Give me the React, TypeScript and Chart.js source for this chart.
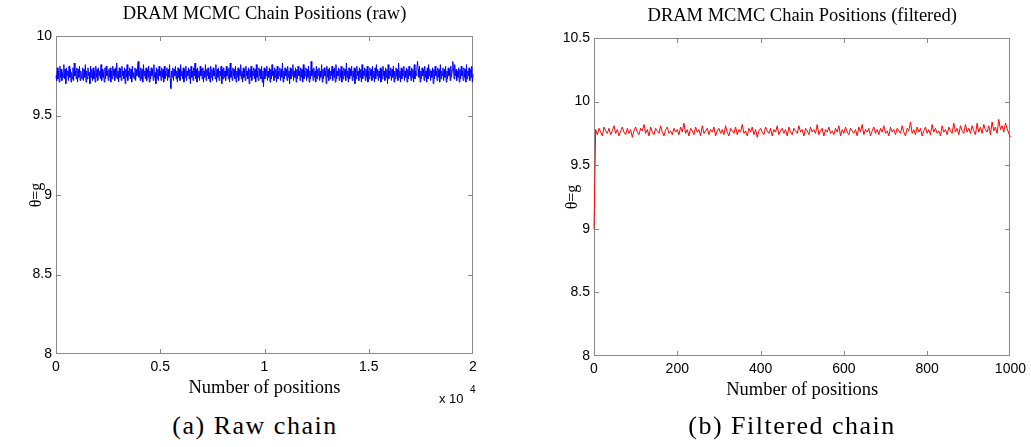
import React, { useEffect, useRef } from "react";
import { Chart, registerables } from "chart.js";

Chart.register(...registerables);

// ---- Data ----
// Raw DRAM chain, thinned (20000 positions in all)
const rawValues: number[] = [
  9.75, 9.72, 9.80, 9.73, 9.78, 9.71, 9.81, 9.74, 9.79, 9.72, 9.77, 9.74, 9.82, 9.73, 9.79, 9.70, 9.80, 9.75, 9.78, 9.72,
  9.81, 9.74, 9.79, 9.71, 9.77, 9.73, 9.80, 9.72, 9.83, 9.75, 9.78, 9.73, 9.80, 9.71, 9.79, 9.74, 9.81, 9.72, 9.78, 9.75,
  9.73, 9.80, 9.72, 9.79, 9.74, 9.82, 9.71, 9.78, 9.73, 9.80, 9.75, 9.77, 9.70, 9.81, 9.74, 9.79, 9.72, 9.80, 9.73, 9.78,
  9.71, 9.81, 9.74, 9.79, 9.72, 9.80, 9.75, 9.78, 9.73, 9.82, 9.72, 9.79, 9.74, 9.77, 9.71, 9.80, 9.73, 9.81, 9.75, 9.78,
  9.72, 9.79, 9.74, 9.80, 9.71, 9.78, 9.73, 9.81, 9.75, 9.79, 9.72, 9.80, 9.74, 9.83, 9.73, 9.78, 9.71, 9.80, 9.74, 9.79,
  9.72, 9.81, 9.75, 9.78, 9.73, 9.80, 9.70, 9.79, 9.74, 9.82, 9.72, 9.78, 9.75, 9.80, 9.73, 9.79, 9.71, 9.81, 9.74, 9.77,
  9.73, 9.80, 9.72, 9.79, 9.75, 9.81, 9.84, 9.74, 9.78, 9.72, 9.80, 9.73, 9.79, 9.71, 9.82, 9.75, 9.78, 9.73, 9.80, 9.72,
  9.79, 9.74, 9.81, 9.71, 9.78, 9.73, 9.80, 9.75, 9.79, 9.72, 9.82, 9.74, 9.77, 9.70, 9.80, 9.73, 9.79, 9.72, 9.81, 9.75,
  9.78, 9.72, 9.80, 9.74, 9.79, 9.71, 9.81, 9.73, 9.78, 9.75, 9.80, 9.72, 9.79, 9.74, 9.82, 9.73, 9.67, 9.78, 9.74, 9.80,
  9.72, 9.79, 9.75, 9.81, 9.73, 9.78, 9.71, 9.80, 9.74, 9.79, 9.72, 9.82, 9.75, 9.78, 9.73, 9.80, 9.71, 9.79, 9.74, 9.81,
  9.72, 9.78, 9.75, 9.80, 9.73, 9.79, 9.70, 9.81, 9.74, 9.78, 9.72, 9.80, 9.75, 9.83, 9.73, 9.79, 9.71, 9.80, 9.74, 9.78,
  9.72, 9.81, 9.75, 9.79, 9.73, 9.80, 9.71, 9.78, 9.74, 9.82, 9.72, 9.79, 9.75, 9.80, 9.73, 9.77, 9.71, 9.81, 9.74, 9.79,
  9.72, 9.80, 9.75, 9.78, 9.73, 9.82, 9.71, 9.79, 9.74, 9.80, 9.72, 9.78, 9.75, 9.81, 9.70, 9.79, 9.73, 9.80, 9.74, 9.78,
  9.72, 9.81, 9.75, 9.79, 9.73, 9.80, 9.71, 9.83, 9.74, 9.78, 9.72, 9.80, 9.75, 9.79, 9.73, 9.81, 9.71, 9.78, 9.74, 9.80,
  9.72, 9.79, 9.75, 9.82, 9.73, 9.78, 9.71, 9.80, 9.74, 9.79, 9.72, 9.81, 9.75, 9.78, 9.73, 9.80, 9.70, 9.79, 9.74, 9.81,
  9.72, 9.78, 9.75, 9.80, 9.73, 9.79, 9.71, 9.82, 9.74, 9.78, 9.72, 9.80, 9.75, 9.79, 9.73, 9.81, 9.71, 9.78, 9.68, 9.80,
  9.73, 9.79, 9.75, 9.81, 9.72, 9.78, 9.74, 9.80, 9.71, 9.79, 9.73, 9.82, 9.75, 9.78, 9.72, 9.80, 9.74, 9.79, 9.71, 9.81,
  9.73, 9.78, 9.75, 9.80, 9.72, 9.79, 9.74, 9.83, 9.71, 9.78, 9.73, 9.80, 9.75, 9.79, 9.72, 9.81, 9.74, 9.78, 9.70, 9.80,
  9.73, 9.79, 9.75, 9.82, 9.72, 9.78, 9.74, 9.80, 9.71, 9.79, 9.73, 9.81, 9.75, 9.78, 9.72, 9.80, 9.74, 9.79, 9.71, 9.82,
  9.73, 9.78, 9.75, 9.80, 9.72, 9.79, 9.74, 9.81, 9.71, 9.78, 9.73, 9.84, 9.75, 9.79, 9.72, 9.80, 9.74, 9.78, 9.71, 9.81,
  9.73, 9.79, 9.75, 9.80, 9.72, 9.78, 9.74, 9.82, 9.71, 9.79, 9.73, 9.80, 9.75, 9.78, 9.70, 9.81, 9.74, 9.79, 9.72, 9.80,
  9.73, 9.78, 9.75, 9.81, 9.72, 9.79, 9.74, 9.80, 9.71, 9.82, 9.73, 9.78, 9.75, 9.80, 9.72, 9.79, 9.74, 9.81, 9.71, 9.78,
  9.73, 9.80, 9.75, 9.79, 9.72, 9.83, 9.74, 9.78, 9.71, 9.80, 9.73, 9.79, 9.75, 9.81, 9.72, 9.78, 9.74, 9.80, 9.70, 9.79,
  9.73, 9.81, 9.75, 9.78, 9.72, 9.80, 9.74, 9.79, 9.71, 9.82, 9.73, 9.78, 9.75, 9.80, 9.72, 9.79, 9.74, 9.81, 9.71, 9.78,
  9.73, 9.80, 9.75, 9.79, 9.72, 9.81, 9.74, 9.78, 9.71, 9.80, 9.73, 9.82, 9.75, 9.79, 9.72, 9.78, 9.74, 9.80, 9.71, 9.79,
  9.73, 9.81, 9.75, 9.78, 9.72, 9.80, 9.74, 9.79, 9.70, 9.82, 9.73, 9.78, 9.75, 9.80, 9.72, 9.79, 9.74, 9.81, 9.71, 9.78,
  9.73, 9.80, 9.75, 9.79, 9.72, 9.83, 9.74, 9.78, 9.71, 9.80, 9.73, 9.79, 9.75, 9.81, 9.72, 9.78, 9.74, 9.80, 9.71, 9.79,
  9.73, 9.81, 9.75, 9.78, 9.72, 9.80, 9.74, 9.79, 9.71, 9.82, 9.73, 9.78, 9.75, 9.80, 9.84, 9.79, 9.74, 9.81, 9.71, 9.78,
  9.73, 9.80, 9.75, 9.79, 9.72, 9.81, 9.74, 9.78, 9.71, 9.80, 9.73, 9.82, 9.75, 9.79, 9.72, 9.78, 9.74, 9.80, 9.70, 9.79,
  9.73, 9.81, 9.75, 9.78, 9.72, 9.80, 9.74, 9.79, 9.71, 9.82, 9.73, 9.78, 9.75, 9.80, 9.72, 9.79, 9.74, 9.81, 9.71, 9.78,
  9.73, 9.80, 9.75, 9.79, 9.72, 9.81, 9.74, 9.78, 9.84, 9.80, 9.73, 9.82, 9.75, 9.79, 9.72, 9.78, 9.74, 9.80, 9.71, 9.79,
  9.73, 9.81, 9.75, 9.78, 9.72, 9.80, 9.74, 9.79, 9.71, 9.82, 9.73, 9.78, 9.75, 9.80, 9.72, 9.79, 9.74, 9.81, 9.71, 9.76,
];
const rawLastPosition = 20000;

// Filtered chain: initial value, then every 4th of 1000 positions
const filteredValues: number[] = [
  9.00,
  9.78, 9.74, 9.79, 9.76, 9.73, 9.80, 9.77, 9.75, 9.79, 9.74, 9.77, 9.81, 9.75, 9.78, 9.73, 9.77, 9.80, 9.76, 9.74, 9.79, 9.75, 9.78, 9.72, 9.77, 9.80,
  9.76, 9.74, 9.79, 9.77, 9.82, 9.75, 9.78, 9.73, 9.80, 9.76, 9.74, 9.79, 9.77, 9.75, 9.81, 9.76, 9.73, 9.78, 9.80, 9.75, 9.77, 9.74, 9.79, 9.76, 9.78,
  9.74, 9.80, 9.76, 9.83, 9.75, 9.78, 9.73, 9.79, 9.77, 9.74, 9.80, 9.76, 9.78, 9.73, 9.81, 9.75, 9.77, 9.79, 9.74, 9.78, 9.76, 9.80, 9.73, 9.77, 9.79,
  9.75, 9.78, 9.74, 9.81, 9.76, 9.73, 9.79, 9.77, 9.75, 9.80, 9.74, 9.78, 9.76, 9.82, 9.75, 9.77, 9.73, 9.79, 9.76, 9.80, 9.74, 9.78, 9.72, 9.77, 9.79,
  9.76, 9.74, 9.80, 9.77, 9.75, 9.79, 9.73, 9.78, 9.76, 9.81, 9.74, 9.77, 9.79, 9.75, 9.78, 9.73, 9.80, 9.76, 9.74, 9.79, 9.77, 9.75, 9.81, 9.76, 9.78,
  9.73, 9.79, 9.77, 9.74, 9.80, 9.76, 9.78, 9.75, 9.82, 9.74, 9.77, 9.79, 9.73, 9.78, 9.76, 9.80, 9.75, 9.77, 9.74, 9.79, 9.76, 9.81, 9.73, 9.78, 9.75,
  9.80, 9.76, 9.74, 9.79, 9.77, 9.75, 9.78, 9.73, 9.80, 9.76, 9.82, 9.74, 9.78, 9.76, 9.79, 9.73, 9.77, 9.80, 9.75, 9.78, 9.74, 9.79, 9.76, 9.81, 9.75,
  9.77, 9.73, 9.80, 9.76, 9.78, 9.74, 9.79, 9.77, 9.75, 9.81, 9.76, 9.73, 9.79, 9.77, 9.84, 9.75, 9.78, 9.74, 9.80, 9.76, 9.79, 9.73, 9.77, 9.80, 9.75,
  9.78, 9.74, 9.82, 9.76, 9.79, 9.75, 9.77, 9.73, 9.81, 9.76, 9.78, 9.74, 9.80, 9.77, 9.75, 9.83, 9.76, 9.79, 9.74, 9.81, 9.77, 9.75, 9.82, 9.76, 9.79,
  9.75, 9.81, 9.77, 9.74, 9.83, 9.76, 9.80, 9.75, 9.82, 9.78, 9.76, 9.81, 9.74, 9.84, 9.77, 9.80, 9.75, 9.86, 9.78, 9.81, 9.76, 9.83, 9.79, 9.75, 9.72,
];
const filteredLastPosition = 1000;

// Axes / tick labels
const rawXTicks = [0, 5000, 10000, 15000, 20000];
const rawXTickLabels = ["0", "0.5", "1", "1.5", "2"];
const rawYRange = [8, 10];
const filtXTicks = [0, 200, 400, 600, 800, 1000];
const filtXTickLabels = ["0", "200", "400", "600", "800", "1000"];
const filtYRange = [8, 10.5];
const yStep = 0.5;

const rawTitle = "DRAM MCMC Chain Positions (raw)";
const filtTitle = "DRAM MCMC Chain Positions (filtered)";
const xLabel = "Number of positions";
const yLabel = "θ=g";
const rawCaption = "(a) Raw chain";
const filtCaption = "(b) Filtered chain";
const exponentBase = "x 10";
const exponentPower = "4";

// ---- Styling ----
const SERIF = "'Liberation Serif', 'Times New Roman', serif";
const SANS = "'Liberation Sans', Arial, sans-serif";
const AXIS_COLOR = "#8a8a8a";

const framePlugin = {
  id: "matlabFrame",
  beforeDatasetsDraw(chart: any) {
    const { ctx, chartArea: a, scales } = chart;
    const L = Math.round(a.left);
    const R = Math.round(a.right) - 1;
    const T = Math.round(a.top);
    const B = Math.round(a.bottom) - 1;
    const tl = 4;
    ctx.save();
    ctx.fillStyle = AXIS_COLOR;
    ctx.fillRect(L, T, R - L + 1, 1);
    ctx.fillRect(L, B, R - L + 1, 1);
    ctx.fillRect(L, T, 1, B - T + 1);
    ctx.fillRect(R, T, 1, B - T + 1);
    scales.x.ticks.forEach((t: any) => {
      const px = Math.round(scales.x.getPixelForValue(t.value));
      if (px <= L + 1 || px >= R - 1) return;
      ctx.fillRect(px, B - tl, 1, tl);
      ctx.fillRect(px, T + 1, 1, tl);
    });
    scales.y.ticks.forEach((t: any) => {
      const py = Math.round(scales.y.getPixelForValue(t.value));
      if (py <= T + 1 || py >= B - 1) return;
      ctx.fillRect(L + 1, py, tl, 1);
      ctx.fillRect(R - tl, py, tl, 1);
    });
    ctx.restore();
  },
  afterDraw(chart: any) {
    const opts = chart.options.plugins.matlabFrame || {};
    if (!opts.exponent) return;
    const { ctx, chartArea: a } = chart;
    ctx.save();
    ctx.fillStyle = "#000";
    ctx.textBaseline = "alphabetic";
    ctx.textAlign = "left";
    ctx.font = `13px ${SANS}`;
    ctx.fillText(exponentBase, a.right - 34, a.bottom + 49);
    ctx.font = `10px ${SANS}`;
    ctx.fillText(exponentPower, a.right - 3, a.bottom + 39);
    ctx.restore();
  },
};

type Cfg = {
  values: number[];
  lastPosition: number;
  color: string;
  lineWidth: number;
  title: string;
  xTicks: number[];
  xTickLabels: string[];
  yRange: number[];
  yScaleWidth: number;
  yTitlePad: number;
  rightPad: number;
  exponent: boolean;
};

function makeConfig(c: Cfg): any {
  const n = c.values.length;
  const points = c.values.map((v, i) => ({
    x: (i * c.lastPosition) / (n - 1),
    y: v,
  }));
  return {
    type: "line",
    data: {
      datasets: [
        {
          data: points,
          borderColor: c.color,
          borderWidth: c.lineWidth,
          pointRadius: 0,
          fill: false,
          tension: 0,
          clip: false,
        },
      ],
    },
    plugins: [framePlugin],
    options: {
      animation: false,
      responsive: false,
      devicePixelRatio: 1,
      events: [],
      layout: { padding: { left: 0, right: c.rightPad, top: 0, bottom: 0 } },
      plugins: {
        legend: { display: false },
        tooltip: { enabled: false },
        matlabFrame: { exponent: c.exponent },
        title: {
          display: true,
          text: c.title,
          fullSize: false,
          color: "#000",
          font: { family: SERIF, size: 18.5, weight: "normal", lineHeight: 1.2 },
          padding: { top: 3, bottom: 10.8 },
        },
      },
      scales: {
        x: {
          type: "linear",
          min: c.xTicks[0],
          max: c.xTicks[c.xTicks.length - 1],
          afterBuildTicks: (s: any) => {
            s.ticks = c.xTicks.map((v) => ({ value: v }));
          },
          afterFit: (s: any) => {
            s.height = 56;
          },
          grid: { display: false, drawTicks: false },
          border: { display: false },
          ticks: {
            autoSkip: false,
            maxRotation: 0,
            padding: 5,
            color: "#000",
            font: { family: SANS, size: 14 },
            callback: (v: number) => {
              const i = c.xTicks.indexOf(v);
              return i >= 0 ? c.xTickLabels[i] : "";
            },
          },
          title: {
            display: true,
            text: xLabel,
            color: "#000",
            font: { family: SERIF, size: 18.5, lineHeight: 1.2 },
            padding: { top: 0, bottom: 11.2 },
          },
        },
        y: {
          type: "linear",
          min: c.yRange[0],
          max: c.yRange[1],
          afterFit: (s: any) => {
            s.width = c.yScaleWidth;
          },
          grid: { display: false, drawTicks: false },
          border: { display: false },
          ticks: {
            stepSize: yStep,
            padding: 4,
            color: "#000",
            font: { family: SANS, size: 14 },
            callback: (v: number) => String(Math.round(v * 10) / 10),
          },
          title: {
            display: true,
            text: yLabel,
            color: "#000",
            font: { family: SERIF, size: 16, lineHeight: 1.2 },
            padding: { top: c.yTitlePad, bottom: 0 },
          },
        },
      },
    },
  };
}

function ChainChart(props: { cfg: Cfg; left: number; top: number; width: number; height: number }) {
  const ref = useRef<HTMLCanvasElement | null>(null);
  useEffect(() => {
    if (!ref.current) return;
    const chart = new Chart(ref.current, makeConfig(props.cfg));
    return () => chart.destroy();
  }, []);
  return (
    <canvas
      ref={ref}
      width={props.width}
      height={props.height}
      style={{ position: "absolute", left: props.left, top: props.top, width: props.width, height: props.height }}
    />
  );
}

const captionStyle: React.CSSProperties = {
  position: "absolute",
  width: 300,
  textAlign: "center",
  fontFamily: SERIF,
  fontSize: 26,
  lineHeight: "26px",
  letterSpacing: "1.5px",
  color: "#000",
  whiteSpace: "nowrap",
};

export default function App() {
  const rawCfg: Cfg = {
    values: rawValues,
    lastPosition: rawLastPosition,
    color: "#0000ff",
    lineWidth: 1,
    title: rawTitle,
    xTicks: rawXTicks,
    xTickLabels: rawXTickLabels,
    yRange: rawYRange,
    yScaleWidth: 56,
    yTitlePad: 27.4,
    rightPad: 47,
    exponent: true,
  };
  const filtCfg: Cfg = {
    values: filteredValues,
    lastPosition: filteredLastPosition,
    color: "#ff0000",
    lineWidth: 1,
    title: filtTitle,
    xTicks: filtXTicks,
    xTickLabels: filtXTickLabels,
    yRange: filtYRange,
    yScaleWidth: 74,
    yTitlePad: 43.4,
    rightPad: 20,
    exponent: false,
  };
  return (
    <div style={{ position: "absolute", left: 0, top: 0, width: 1031, height: 447, background: "#fff", overflow: "hidden" }}>
      <ChainChart cfg={rawCfg} left={0} top={0} width={520} height={410} />
      <ChainChart cfg={filtCfg} left={520} top={2} width={511} height={410} />
      <div style={{ ...captionStyle, left: 255 - 150, top: 413 }}>{rawCaption}</div>
      <div style={{ ...captionStyle, left: 792 - 150, top: 413 }}>{filtCaption}</div>
    </div>
  );
}
